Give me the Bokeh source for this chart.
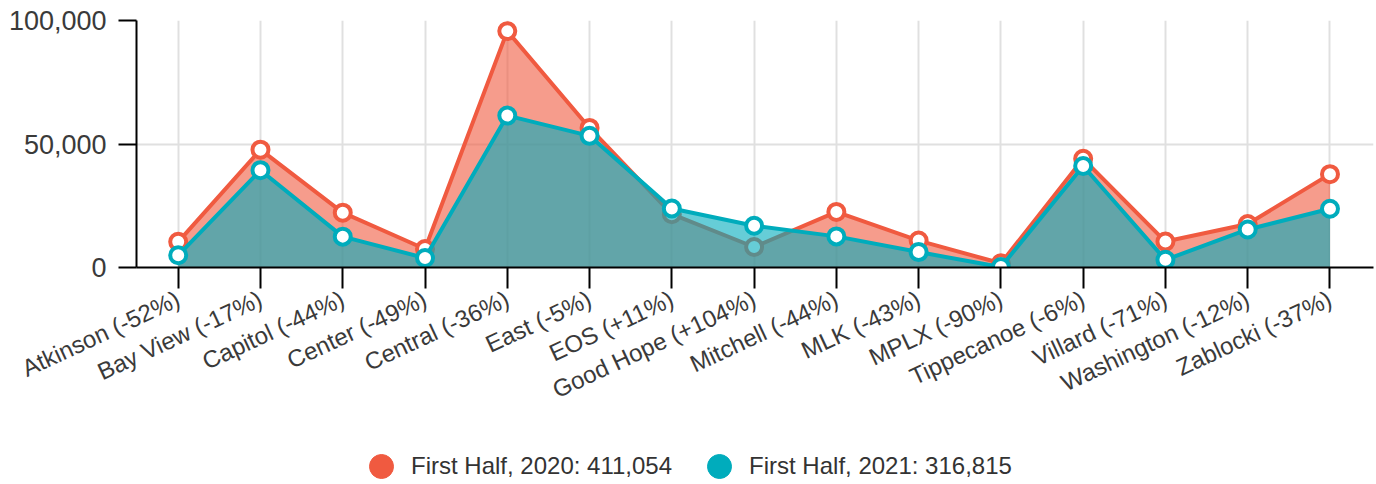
import math
from bokeh.plotting import figure
from bokeh.layouts import column
from bokeh.models import (ColumnDataSource, FixedTicker, NumeralTickFormatter,
                          Legend, LegendItem, Range1d)
from bokeh.embed import file_html
from bokeh.resources import INLINE

categories = ["Atkinson (-52%)", "Bay View (-17%)", "Capitol (-44%)", "Center (-49%)",
              "Central (-36%)", "East (-5%)", "EOS (+11%)", "Good Hope (+104%)",
              "Mitchell (-44%)", "MLK (-43%)", "MPLX (-90%)", "Tippecanoe (-6%)",
              "Villard (-71%)", "Washington (-12%)", "Zablocki (-37%)"]
h1_2020 = [10400, 47700, 22200, 7500, 95700, 56500, 21600, 8300,
           22500, 10900, 1700, 44000, 10500, 17600, 37800]
h1_2021 = [4950, 39400, 12500, 3850, 61500, 53300, 23900, 16900,
           12600, 6250, 170, 41100, 3100, 15400, 23800]
legend_labels = ["First Half, 2020: 411,054", "First Half, 2021: 316,815"]
y_ticks = [0, 50000, 100000]

ORANGE = "#F05A40"
TEAL = "#00ACBC"
FONT = "Liberation Sans"

xs = list(range(len(categories)))
src = ColumnDataSource(dict(x=xs, a=h1_2020, b=h1_2021, zero=[0] * len(xs)))

p = figure(width=1376, height=424, output_backend="svg", toolbar_location=None,
           x_range=Range1d(-0.507, 14.529), y_range=Range1d(0, 100000),
           min_border_left=136, min_border_right=3, min_border_top=20,
           min_border_bottom=157)
p.outline_line_color = None
p.background_fill_color = "white"

# 2020 series
p.varea(x="x", y1="zero", y2="a", source=src, fill_color=ORANGE, fill_alpha=0.6)
p.line(x="x", y="a", source=src, line_color=ORANGE, line_width=4)
p.scatter(x="x", y="a", source=src, size=16, fill_color="white",
          line_color=ORANGE, line_width=4)
# 2021 series
p.varea(x="x", y1="zero", y2="b", source=src, fill_color=TEAL, fill_alpha=0.6)
p.line(x="x", y="b", source=src, line_color=TEAL, line_width=4)
p.scatter(x="x", y="b", source=src, size=16, fill_color="white",
          line_color=TEAL, line_width=4)

# axes
p.xaxis.ticker = FixedTicker(ticks=xs)
p.xaxis.major_label_overrides = {i: c for i, c in enumerate(categories)}
p.xaxis.major_label_orientation = math.radians(25)
p.yaxis.ticker = FixedTicker(ticks=y_ticks)
p.yaxis.formatter = NumeralTickFormatter(format="0,0")
for ax in (p.xaxis, p.yaxis):
    ax.axis_line_color = "black"
    ax.axis_line_width = 2
    ax.major_tick_line_color = "black"
    ax.major_tick_line_width = 2
    ax.major_tick_in = 0
    ax.minor_tick_line_color = None
    ax.major_label_text_font = FONT
    ax.major_label_text_color = "#3a3a3a"
p.xaxis.major_tick_out = 21
p.yaxis.major_tick_out = 18
p.xaxis.major_label_text_font_size = "24px"
p.yaxis.major_label_text_font_size = "27px"
p.xaxis.major_label_standoff = 9
p.yaxis.major_label_standoff = 12

p.xgrid.ticker = FixedTicker(ticks=xs)
p.ygrid.ticker = FixedTicker(ticks=y_ticks)
for g in (p.xgrid, p.ygrid):
    g.grid_line_color = "#e0e0e0"
    g.grid_line_width = 2

# legend in its own strip below the chart
lf = figure(width=1376, height=60, output_backend="svg", toolbar_location=None,
            x_range=Range1d(0, 1), y_range=Range1d(0, 1),
            min_border_left=0, min_border_right=0, min_border_top=0,
            min_border_bottom=0)
lf.axis.visible = False
lf.grid.visible = False
lf.outline_line_color = None
nan = float("nan")
r1 = lf.scatter(x=[nan], y=[nan], size=24, fill_color=ORANGE, line_color=ORANGE)
r2 = lf.scatter(x=[nan], y=[nan], size=24, fill_color=TEAL, line_color=TEAL)
legend = Legend(items=[LegendItem(label=legend_labels[0], renderers=[r1]),
                       LegendItem(label=legend_labels[1], renderers=[r2])],
                orientation="horizontal", location=(215, -12),
                glyph_width=60, glyph_height=60, label_standoff=0, spacing=17,
                padding=0, margin=0, border_line_color=None,
                background_fill_alpha=0,
                label_text_font=FONT, label_text_font_size="24px",
                label_text_color="#333333")
lf.add_layout(legend, "center")

open("out.html", "w").write(file_html(column(p, lf, spacing=0), INLINE))
